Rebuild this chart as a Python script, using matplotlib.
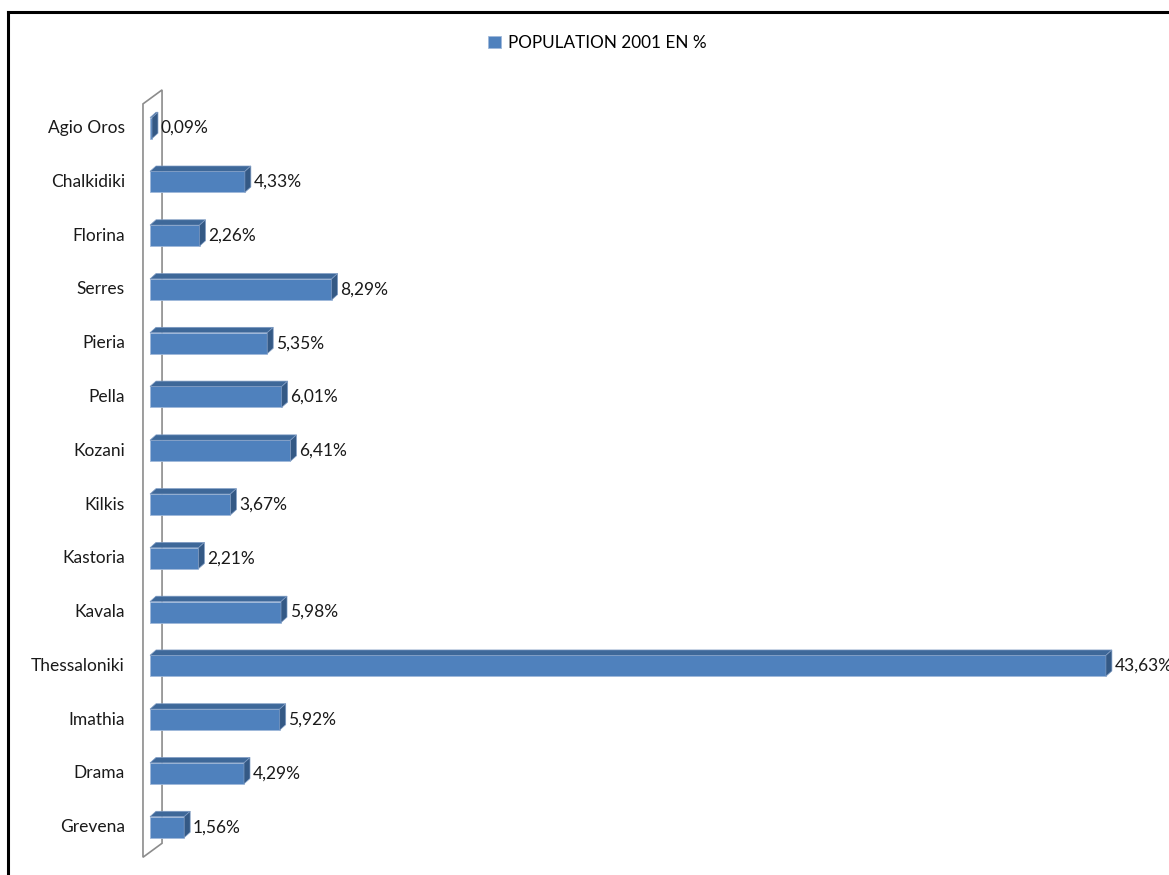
import matplotlib.pyplot as plt
from matplotlib.patches import Polygon
from matplotlib.lines import Line2D

# categories bottom -> top, as drawn
regions = ['Grevena', 'Drama', 'Imathia', 'Thessaloniki', 'Kavala', 'Kastoria',
           'Kilkis', 'Kozani', 'Pella', 'Pieria', 'Serres', 'Florina',
           'Chalkidiki', 'Agio Oros']
population_pct = [1.56, 4.29, 5.92, 43.63, 5.98, 2.21,
                  3.67, 6.41, 6.01, 5.35, 8.29, 2.26,
                  4.33, 0.09]
legend_label = 'POPULATION 2001 EN %'

front_col = '#4f81bd'
top_col = '#3e6899'
side_col = '#345985'
font = ['Lato', 'DejaVu Sans']

fig = plt.figure(figsize=(11.69, 8.75), dpi=100)
ax = fig.add_axes([0, 0, 1, 1])
ax.set_xlim(-6.846, 46.51)
ax.set_ylim(-0.89, 15.382)
ax.axis('off')

n = len(regions)
h = 0.39      # front face height
dx = 0.274    # depth offsets of bars
dy = 0.10

# back wall (thin 3D panel behind the bars)
wl, wr, wb, wt, wdy = -0.32, 0.55, -0.56, n - 1 + 0.45, 0.26
wall = Polygon([(wl, wb), (wl, wt), (wr, wt + wdy), (wr, wb + wdy)],
               closed=True, facecolor='white', edgecolor='#8c8c8c',
               linewidth=1.2, zorder=1)
ax.add_patch(wall)

ys = list(range(n))
bars = ax.barh(ys, population_pct, height=h, color=front_col,
               edgecolor='#9fb9da', linewidth=0.6, zorder=3,
               label=legend_label)

for i, v in enumerate(population_pct):
    yt = i + h / 2
    yb = i - h / 2
    ax.add_patch(Polygon([(0, yt), (v, yt), (v + dx, yt + dy), (dx, yt + dy)],
                         closed=True, facecolor=top_col, edgecolor='#7f9cc4',
                         linewidth=0.5, zorder=3))
    ax.add_patch(Polygon([(v, yb), (v + dx, yb + dy), (v + dx, yt + dy), (v, yt)],
                         closed=True, facecolor=side_col, edgecolor='#7f9cc4',
                         linewidth=0.5, zorder=3))
    ax.text(v + dx + 0.12, i, f'{v:.2f}%'.replace('.', ','),
            ha='left', va='center', fontsize=12.5, color='#1a1a1a',
            family=font, zorder=4)
    ax.text(-1.15, i, regions[i], ha='right', va='center', fontsize=12.5,
            color='#1a1a1a', family=font)

fig.legend(handles=[bars], loc='center', bbox_to_anchor=(0.511, 0.951),
           frameon=False, handlelength=0.75, handleheight=0.75,
           handletextpad=0.45, prop={'family': font, 'size': 12.3})

# outer frame (top and left edges visible)
fig.add_artist(Line2D([8 / 1169, 1], [1 - 12 / 875, 1 - 12 / 875],
                      transform=fig.transFigure, color='black', linewidth=2.2))
fig.add_artist(Line2D([8 / 1169, 8 / 1169], [0, 1 - 12 / 875],
                      transform=fig.transFigure, color='black', linewidth=2.2))

fig.savefig('out.png', dpi=100)
